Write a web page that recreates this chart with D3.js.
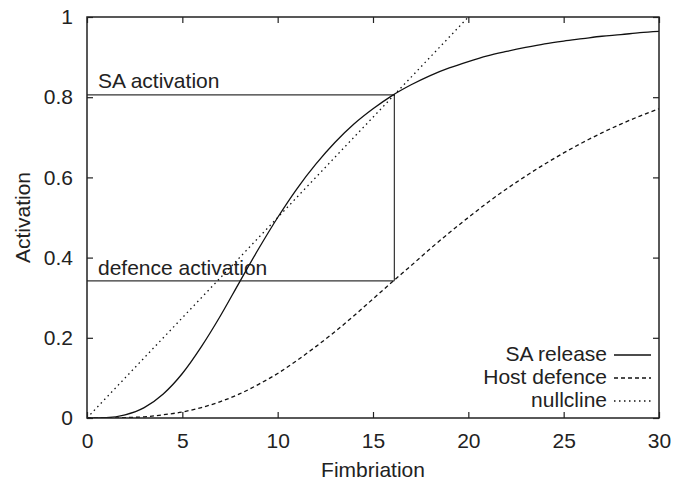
<!DOCTYPE html>
<html>
<head>
<meta charset="utf-8">
<script src="https://cdn.jsdelivr.net/npm/d3@7"></script>
<style>
  body { margin: 0; background: #fff; }
  text { font-family: "Liberation Sans", Arial, sans-serif; fill: #222; }
</style>
</head>
<body>
<svg id="chart" width="685" height="483"></svg>
<script>
var fimbriation = [0,1,2,3,4,5,6,7,8,9,10,11,12,13,14,15,16,17,18,19,20,21,22,23,24,25,26,27,28,29,30];
var saRelease = [0,0.001,0.008,0.026,0.06,0.111,0.178,0.255,0.339,0.422,0.5,0.571,0.633,0.687,0.733,0.771,0.804,0.831,0.854,0.873,0.889,0.903,0.914,0.924,0.933,0.94,0.946,0.952,0.956,0.961,0.964];
var hostDefence = [0,0,0.001,0.003,0.008,0.015,0.026,0.041,0.06,0.084,0.111,0.143,0.178,0.215,0.255,0.297,0.339,0.38,0.422,0.462,0.5,0.537,0.571,0.603,0.633,0.661,0.687,0.711,0.733,0.753,0.771];
var nullclineX = [0, 20];
var nullclineY = [0, 1];

var fixedPoint = 16.12;       // where SA release meets the nullcline
var saActivation = 0.806;
var defenceActivation = 0.342;

var xTicks = [0, 5, 10, 15, 20, 25, 30];
var yTicks = [0, 0.2, 0.4, 0.6, 0.8, 1];

var seriesNames = ["SA release", "Host defence", "nullcline"];
var seriesDash = [null, "4,3", "1.5,3.5"];

var svg = d3.select("#chart"),
    pLeft = 87, pRight = 659, pTop = 17, pBottom = 418;

var x = d3.scaleLinear().domain([0, 30]).range([pLeft, pRight]),
    y = d3.scaleLinear().domain([0, 1]).range([pBottom, pTop]);

var fs = "21px";

svg.append("clipPath").attr("id", "clip")
  .append("rect").attr("x", pLeft).attr("y", pTop)
  .attr("width", pRight - pLeft).attr("height", pBottom - pTop);

// axes: ticks inside, mirrored on top and right
var tickLen = 6;
svg.append("g").attr("transform", "translate(0," + pBottom + ")")
  .call(d3.axisBottom(x).tickValues(xTicks).tickSizeInner(-tickLen).tickSizeOuter(0).tickPadding(15))
  .call(function(g) {
    g.select(".domain").remove();
    g.selectAll("text").attr("font-size", fs).attr("fill", "#222")
      .attr("font-family", "Liberation Sans, Arial, sans-serif");
  });
svg.append("g").attr("transform", "translate(0," + pTop + ")")
  .call(d3.axisTop(x).tickValues(xTicks).tickSizeInner(-tickLen).tickSizeOuter(0).tickFormat(""))
  .call(function(g) { g.select(".domain").remove(); });
svg.append("g").attr("transform", "translate(" + pLeft + ",0)")
  .call(d3.axisLeft(y).tickValues(yTicks).tickSizeInner(-tickLen).tickSizeOuter(0).tickPadding(14)
    .tickFormat(function(d) { return d; }))
  .call(function(g) {
    g.select(".domain").remove();
    g.selectAll("text").attr("font-size", fs).attr("fill", "#222")
      .attr("font-family", "Liberation Sans, Arial, sans-serif");
  });
svg.append("g").attr("transform", "translate(" + pRight + ",0)")
  .call(d3.axisRight(y).tickValues(yTicks).tickSizeInner(-tickLen).tickSizeOuter(0).tickFormat(""))
  .call(function(g) { g.select(".domain").remove(); });

svg.selectAll(".tick line").attr("stroke", "#222").attr("stroke-width", 1.2);

// guide lines for the fixed point
var guide = svg.append("g").attr("stroke", "#333").attr("stroke-width", 1.2).attr("fill", "none");
guide.append("line").attr("x1", x(0)).attr("x2", x(fixedPoint))
  .attr("y1", y(saActivation)).attr("y2", y(saActivation));
guide.append("line").attr("x1", x(0)).attr("x2", x(fixedPoint))
  .attr("y1", y(defenceActivation)).attr("y2", y(defenceActivation));
guide.append("line").attr("x1", x(fixedPoint)).attr("x2", x(fixedPoint))
  .attr("y1", y(saActivation)).attr("y2", y(defenceActivation));

svg.append("text").attr("x", x(0) + 11).attr("y", y(saActivation) - 7)
  .attr("font-size", fs).text("SA activation");
svg.append("text").attr("x", x(0) + 11).attr("y", y(defenceActivation) - 6)
  .attr("font-size", fs).text("defence activation");

// curves
var line = d3.line()
  .x(function(d) { return x(d[0]); })
  .y(function(d) { return y(d[1]); })
  .curve(d3.curveMonotoneX);

var series = [
  d3.zip(fimbriation, saRelease),
  d3.zip(fimbriation, hostDefence),
  d3.zip(nullclineX, nullclineY)
];

svg.append("g").attr("clip-path", "url(#clip)")
  .selectAll("path").data(series).enter().append("path")
  .attr("d", line)
  .attr("fill", "none")
  .attr("stroke", "#111")
  .attr("stroke-width", 1.3)
  .attr("stroke-dasharray", function(d, i) { return seriesDash[i]; });

// frame
svg.append("rect").attr("x", pLeft).attr("y", pTop)
  .attr("width", pRight - pLeft).attr("height", pBottom - pTop)
  .attr("fill", "none").attr("stroke", "#222").attr("stroke-width", 1.5);

// legend
var legend = svg.append("g");
seriesNames.forEach(function(name, i) {
  var by = 361 + i * 23;
  legend.append("text").attr("x", 607).attr("y", by)
    .attr("text-anchor", "end").attr("font-size", fs).text(name);
  legend.append("line").attr("x1", 614).attr("x2", 651)
    .attr("y1", by - 6).attr("y2", by - 6)
    .attr("stroke", "#111").attr("stroke-width", 1.3)
    .attr("stroke-dasharray", seriesDash[i]);
});

// axis titles
svg.append("text").attr("x", (pLeft + pRight) / 2).attr("y", 477)
  .attr("text-anchor", "middle").attr("font-size", fs).text("Fimbriation");
svg.append("text")
  .attr("transform", "translate(30," + (pTop + pBottom) / 2 + ") rotate(-90)")
  .attr("text-anchor", "middle").attr("font-size", fs).text("Activation");
</script>
</body>
</html>
